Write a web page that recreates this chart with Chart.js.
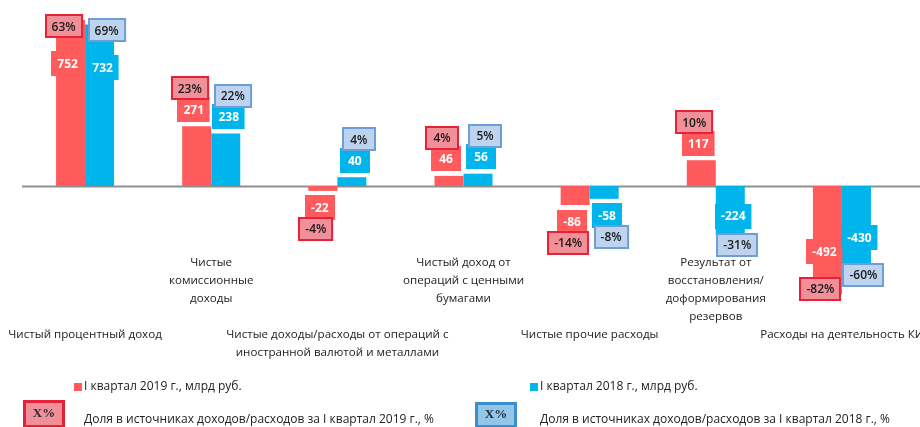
<!DOCTYPE html>
<html>
<head>
<meta charset="utf-8">
<script src="https://cdn.jsdelivr.net/npm/chart.js@4/dist/chart.umd.min.js"></script>
<style>
  html, body { margin: 0; padding: 0; background: #fff; }
  #wrap { width: 920px; height: 427px; }
</style>
</head>
<body>
<div id="wrap"><canvas id="chart" width="920" height="427"></canvas></div>
<script>
const categories = [
  ["Чистый процентный доход"],
  ["Чистые", "комиссионные", "доходы"],
  ["Чистые доходы/расходы от операций с", "иностранной валютой и металлами"],
  ["Чистый доход от", "операций с ценными", "бумагами"],
  ["Чистые прочие расходы"],
  ["Результат от", "восстановления/", "доформирования", "резервов"],
  ["Расходы на деятельность КИ"]
];
const values2019 = [752, 271, -22, 46, -86, 117, -492];
const values2018 = [732, 238, 40, 56, -58, -224, -430];
const share2019 = [63, 23, -4, 4, -14, 10, -82];
const share2018 = [69, 22, 4, 5, -8, -31, -60];
const seriesNames = ["I квартал 2019 г., млрд руб.", "I квартал 2018 г., млрд руб."];
const shareNames = [
  "Доля в источниках доходов/расходов за I квартал 2019 г., %",
  "Доля в источниках доходов/расходов за I квартал 2018 г., %"
];

const RED = "#ff5a5c";
const BLUE = "#00b5eb";
const FONT = "'Open Sans', sans-serif";

// every other category label is pushed down by blank lines
const tickLabels = categories.map((lines, i) => i % 2 === 0 ? ["", "", "", ""].concat(lines) : lines);

const shareStyles = [
  { fill: "#f2909a", stroke: "#e8213a" },
  { fill: "#bdd3ee", stroke: "#6e9ed6" }
];

function box(ctx, cx, cy, w, h, fill, stroke, lw) {
  const x = Math.round(cx - w / 2), y = Math.round(cy - h / 2);
  ctx.fillStyle = fill;
  ctx.fillRect(x, y, w, h);
  if (stroke) {
    ctx.strokeStyle = stroke;
    ctx.lineWidth = lw;
    ctx.strokeRect(x + lw / 2, y + lw / 2, w - lw, h - lw);
  }
}

const zeroLine = {
  id: "zeroLine",
  beforeDatasetsDraw(chart) {
    const ctx = chart.ctx;
    const y = Math.round(chart.scales.y.getPixelForValue(0)) + 0.5;
    ctx.save();
    ctx.strokeStyle = "#8f8f8f";
    ctx.lineWidth = 2;
    ctx.beginPath();
    ctx.moveTo(chart.chartArea.left, y);
    ctx.lineTo(chart.width, y);
    ctx.stroke();
    ctx.restore();
  }
};

const barLabels = {
  id: "barLabels",
  afterDatasetsDraw(chart) {
    const ctx = chart.ctx;
    const shares = [share2019, share2018];
    ctx.save();
    ctx.textAlign = "center";
    ctx.textBaseline = "middle";
    chart.data.datasets.forEach((ds, di) => {
      const side = di === 0 ? -1 : 1;
      chart.getDatasetMeta(di).data.forEach((el, i) => {
        const v = ds.data[i];
        const positive = v >= 0;
        const L = Math.abs(el.base - el.y);
        const s = positive ? -1 : 1;
        const longBar = positive ? L > 100 : L > 40;
        let vy, py;
        if (!longBar) { vy = el.y + s * 17; py = vy + s * 21; }
        else if (L < 70) { vy = el.y - s * (L - 30); py = vy + s * 29; }
        else { vy = el.y - s * 43; py = el.y - s * 6; }

        ctx.font = "bold 12px " + FONT;
        const vt = String(v);
        const vw = Math.max(30, ctx.measureText(vt).width + 12);
        box(ctx, el.x + side * 3, vy, vw, 25, ds.backgroundColor);
        ctx.fillStyle = "#fff";
        ctx.fillText(vt, el.x + side * 3, vy + 1);

        ctx.font = "600 12px " + FONT;
        const pt = shares[di][i] + "%";
        const pw = Math.max(34, ctx.measureText(pt).width + 14);
        const st = shareStyles[di];
        box(ctx, el.x + side * 7, py, pw, 24, st.fill, st.stroke, 2);
        ctx.fillStyle = "#1a1a1a";
        ctx.fillText(pt, el.x + side * 7, py + 1);
      });
    });
    ctx.restore();
  }
};

const legendBlock = {
  id: "legendBlock",
  afterDraw(chart) {
    const ctx = chart.ctx;
    ctx.save();
    ctx.textBaseline = "middle";
    ctx.textAlign = "left";
    ctx.font = "12px " + FONT;
    // series keys
    ctx.fillStyle = RED;
    ctx.fillRect(74, 383, 8, 8);
    ctx.fillStyle = BLUE;
    ctx.fillRect(530, 383, 8, 8);
    ctx.fillStyle = "#222";
    ctx.fillText(seriesNames[0], 84, 387);
    ctx.fillText(seriesNames[1], 540, 387);
    // share keys
    box(ctx, 44, 414, 42, 28, "#f2909a", "#e8213a", 3);
    box(ctx, 496, 415, 42, 26, "#92c7ea", "#3c8fcb", 3);
    ctx.fillStyle = "#222";
    ctx.fillText(shareNames[0], 84, 420);
    ctx.fillText(shareNames[1], 540, 420);
    ctx.textAlign = "center";
    ctx.font = "bold 13px 'Liberation Serif', serif";
    ctx.fillStyle = "#2a2a3a";
    ctx.fillText("X%", 44, 414);
    ctx.fillText("X%", 496, 415);
    ctx.restore();
  }
};

new Chart(document.getElementById("chart"), {
  type: "bar",
  data: {
    labels: tickLabels,
    datasets: [
      { label: seriesNames[0], data: values2019, backgroundColor: RED, clip: false },
      { label: seriesNames[1], data: values2018, backgroundColor: BLUE, clip: false }
    ]
  },
  options: {
    responsive: false,
    animation: false,
    layout: { padding: { left: 22, right: 15, top: 0, bottom: 0 } },
    datasets: { bar: { barPercentage: 1, categoryPercentage: 0.46 } },
    plugins: { legend: { display: false }, tooltip: { enabled: false } },
    scales: {
      x: {
        grid: { display: false, drawTicks: false },
        border: { display: false },
        ticks: {
          autoSkip: false, maxRotation: 0, minRotation: 0, padding: 0,
          color: "#222", font: { family: FONT, size: 11.6, lineHeight: 1.55 }
        },
        afterFit(scale) {
          scale.height = 173;
          // let the long edge labels run past the plot instead of shrinking it
          scale.paddingLeft = 0;
          scale.paddingRight = 0;
        }
      },
      y: { display: false, min: -308, max: 843 }
    }
  },
  plugins: [zeroLine, barLabels, legendBlock]
});
</script>
</body>
</html>
